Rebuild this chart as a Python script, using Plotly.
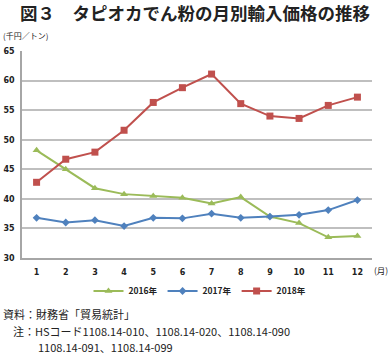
import plotly.graph_objects as go

months = [1, 2, 3, 4, 5, 6, 7, 8, 9, 10, 11, 12]
month_labels = ["1", "2", "3", "4", "5", "6", "7", "8", "9", "10", "11", "12"]
y2016 = [48.2, 45.0, 41.8, 40.8, 40.5, 40.2, 39.2, 40.3, 37.0, 35.9, 33.5, 33.7]
y2017 = [36.8, 36.0, 36.4, 35.4, 36.8, 36.7, 37.5, 36.8, 37.0, 37.3, 38.1, 39.8]
y2018 = [42.8, 46.7, 47.9, 51.6, 56.3, 58.8, 61.1, 56.1, 54.0, 53.6, 55.8, 57.2]
y_ticks = [30, 35, 40, 45, 50, 55, 60, 65]

W, H = 391, 355
ml, mr, mt, mb = 22, 19, 51, 97
ph = H - mt - mb
pw = W - ml - mr

def py(p):
    return (H - mb - p) / ph

def px(p):
    return (p - ml) / pw

fig = go.Figure()
series = [
    ("2016年", y2016, "#9BBB59", "triangle-up", 7),
    ("2017年", y2017, "#4F81BD", "diamond", 6),
    ("2018年", y2018, "#C0504D", "square", 7),
]
for name, ys, col, sym, sz in series:
    fig.add_trace(go.Scatter(
        x=months, y=ys, name=name, mode="lines+markers",
        line=dict(color=col, width=2),
        marker=dict(symbol=sym, size=sz, color=col),
    ))

font_jp = "Noto Sans CJK JP"
fig.update_layout(
    width=W, height=H,
    margin=dict(l=ml, r=mr, t=mt, b=mb, pad=0, autoexpand=False),
    paper_bgcolor="white", plot_bgcolor="white",
    font=dict(family=font_jp, color="#222222"),
    showlegend=True,
    legend=dict(orientation="h", x=px(200), xanchor="center", y=py(291), yanchor="middle",
                font=dict(size=8.5, family=font_jp, color="#222", weight="bold"),
                itemwidth=30,
                tracegroupgap=0, bgcolor="rgba(0,0,0,0)"),
    xaxis=dict(range=[0.5, 12.5], tickmode="array", tickvals=months, ticktext=month_labels,
               automargin=False,
               showgrid=False, zeroline=False, showline=True, linecolor="#A6A6A6", linewidth=1.5,
               ticks="", tickfont=dict(size=8, family="DejaVu Sans", color="#222", weight="bold"),
               ticklabelstandoff=6),
    yaxis=dict(range=[30, 65], tickmode="array", tickvals=y_ticks, automargin=False,
               showgrid=True, gridcolor="#BFBFBF", gridwidth=1.5, zeroline=False,
               showline=True, linecolor="#A6A6A6", linewidth=1.5, ticks="",
               tickfont=dict(size=8, family="DejaVu Sans", color="#222", weight="bold"),
               ticklabelstandoff=4),
)

ann = [
    dict(text="<b>図３　タピオカでん粉の月別輸入価格の推移</b>", x=px(195), y=py(12),
         xanchor="center", yanchor="middle", font=dict(size=17.5, color="#222")),
    dict(text="(千円／トン)", x=px(1), y=py(36),
         xanchor="left", yanchor="middle", font=dict(size=8, color="#222")),
    dict(text="(月)", x=px(372), y=py(270), xanchor="left", yanchor="middle",
         font=dict(size=8.5, color="#222")),
    dict(text="資料：財務省「貿易統計」", x=px(1), y=py(314),
         xanchor="left", yanchor="middle", font=dict(size=11, color="#222")),
    dict(text="注：HSコード1108.14-010、1108.14-020、1108.14-090", x=px(11),
         y=py(331), xanchor="left", yanchor="middle", font=dict(size=11, color="#222")),
    dict(text="1108.14-091、1108.14-099", x=px(36),
         y=py(347), xanchor="left", yanchor="middle", font=dict(size=11, color="#222")),
]
for a in ann:
    a["xref"] = "paper"
    a["yref"] = "paper"
    a["showarrow"] = False
    fig.add_annotation(**a)

fig.write_html("out.html", config={"displayModeBar": False},
               post_script="document.body.style.margin='0';document.body.style.overflow='hidden';")
